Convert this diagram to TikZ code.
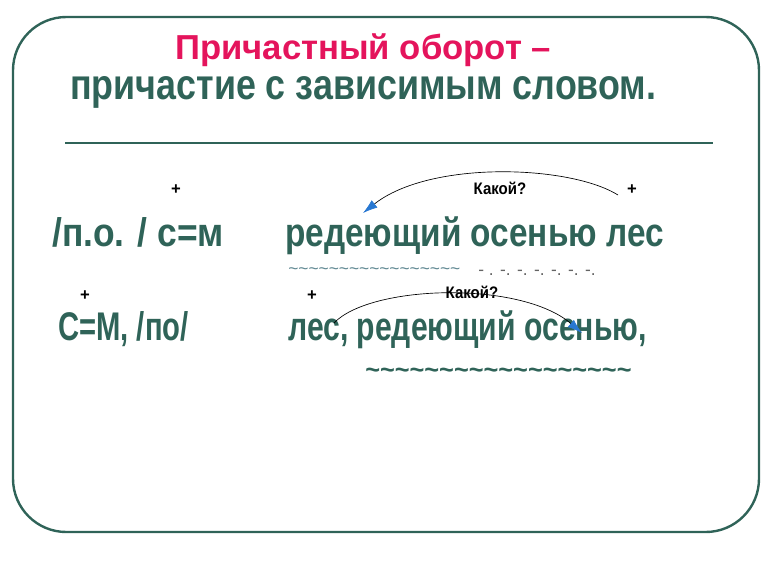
\documentclass[tikz,border=0pt]{standalone}
\usepackage{fontspec}
\usepackage{graphicx}
\setmainfont{Liberation Sans}
\usetikzlibrary{positioning,arrows.meta}

\definecolor{slidegreen}{RGB}{47,99,88}
\definecolor{slidepink}{RGB}{228,20,92}
\definecolor{arrowblue}{RGB}{40,120,210}
\definecolor{wavyblue}{RGB}{95,135,145}
\definecolor{dashgray}{RGB}{100,100,100}

% horizontally squeezed text
\newcommand\narrow[2]{\scalebox{#1}[1]{#2}}

\tikzset{
  word/.style={inner sep=0, anchor=base west, text=slidegreen, font=\bfseries\fontsize{30}{31}\selectfont},
  tag/.style={inner sep=0, anchor=base, font=\bfseries\fontsize{12.5}{13}\selectfont},
  link/.style={-{Latex[length=11pt,width=7pt,color=arrowblue]}, line width=0.5pt}
}

\begin{document}
\begin{tikzpicture}[x=0.75pt,y=-0.75pt]
  \useasboundingbox (0,0) rectangle (770,576);
  \draw[slidegreen, line width=1.8pt, rounded corners=40pt] (13,17) rectangle (759,532);

  \node (head1) [inner sep=0, anchor=base west, text=slidepink, font=\bfseries\fontsize{26}{27}\selectfont] at (175,59) {Причастный оборот –};
  \node (head2) [inner sep=0, anchor=base west, text=slidegreen, font=\bfseries\fontsize{32}{34}\selectfont] at (70,99) {\narrow{0.84}{причастие с зависимым словом.}};
  \draw[slidegreen, line width=2.2pt] (65,143) -- (713,143);

  % first line
  \node (plusA) [tag] at (176,194) {+};
  \node (askA) [tag] at (500,194) {\narrow{0.9}{Какой?}};
  \node (plusB) [tag] at (632,194) {+};
  \node (schemeA) [word] at (52,246) {\narrow{0.885}{/п.о. / с=м}};
  \node (phraseA) [word] at (285,246) {\narrow{0.834}{редеющий осенью лес}};
  \node (waveA) [inner sep=0, anchor=base west, text=wavyblue, font=\fontsize{13}{14}\selectfont] at (288,274) {\foreach \i in {1,...,17}{\textasciitilde}};
  \node (dashA) [inner sep=0, anchor=base west, text=dashgray, font=\fontsize{13}{14}\selectfont] at (478,275) {- . -. -. -. -. -. -.};

  % second line
  \node (plusC) [tag] at (85,300) {+};
  \node (plusD) [tag] at (312,300) {+};
  \node (askB) [tag] at (472,298) {\narrow{0.9}{Какой?}};
  \node (schemeB) [word] at (58,340) {\narrow{0.73}{С=М, /по/}};
  \node (phraseB) [word] at (288,340) {\narrow{0.753}{лес, редеющий осенью,}};
  \node (waveB) [inner sep=0, anchor=base west, text=slidegreen, font=\bfseries\fontsize{19}{20}\selectfont] at (365,378) {\foreach \i in {1,...,18}{\textasciitilde}};

  \coordinate (fromA) at (618,195);
  \coordinate (toA) at (363,213);
  \coordinate (fromB) at (334,323);
  \coordinate (toB) at (582,333);
  \draw[link] (fromA) .. controls (570,165) and (430,160) .. (toA);
  \draw[link] (fromB) .. controls (370,285) and (520,280) .. (toB);
\end{tikzpicture}
\end{document}
